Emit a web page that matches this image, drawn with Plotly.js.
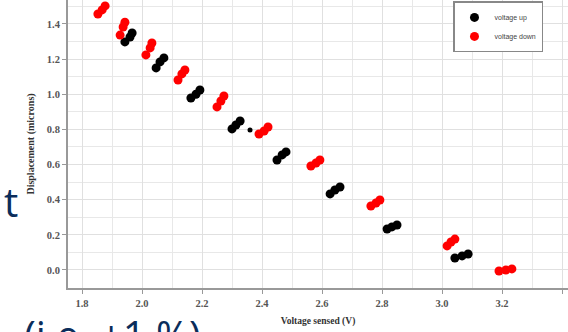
<!DOCTYPE html>
<html>
<head>
<meta charset="utf-8">
<script src="https://cdn.plot.ly/plotly-3.0.1.min.js"></script>
<style>html,body{margin:0;padding:0;background:#fff;}#chart{width:568px;height:332px;}</style>
</head>
<body>
<div id="chart"></div>
<script>
// voltage up (black)
const upX = [1.943,1.96,1.967, 2.047,2.06,2.073, 2.163,2.18,2.193, 2.30,2.313,2.327, 2.45,2.467,2.48, 2.627,2.643,2.66, 2.817,2.833,2.85, 3.043,3.067,3.087];
const upY = [1.298,1.326,1.349, 1.15,1.184,1.207, 0.979,1.0,1.024, 0.803,0.825,0.848, 0.626,0.655,0.672, 0.433,0.455,0.472, 0.233,0.245,0.256, 0.068,0.08,0.091];
// stray small point
const strayX = [2.36];
const strayY = [0.797];
// voltage down (red)
const downX = [1.853,1.867,1.877, 1.927,1.937,1.943, 2.013,2.027,2.033, 2.12,2.133,2.143, 2.25,2.263,2.273, 2.39,2.407,2.42, 2.563,2.58,2.593, 2.763,2.78,2.793, 3.017,3.03,3.043, 3.19,3.213,3.233];
const downY = [1.457,1.48,1.503, 1.337,1.383,1.41, 1.224,1.264,1.292, 1.081,1.116,1.138, 0.928,0.962,0.99, 0.774,0.791,0.814, 0.592,0.609,0.626, 0.364,0.381,0.398, 0.137,0.159,0.176, -0.006,0,0.006];
const seriesNames = ['voltage up', 'voltage down'];
const xTitle = 'Voltage sensed (V)';
const yTitle = 'Displacement (microns)';
const overlayTexts = ['t', '(i.e. ±1 %)'];

const tickFont = {family: 'Liberation Serif', size: 10.5, color: '#555', weight: 'bold'};
const axisCommon = {
  showline: true, linecolor: '#999', linewidth: 2,
  ticks: 'outside', ticklen: 4, tickcolor: '#999',
  showgrid: true, gridcolor: '#e0e0e0', gridwidth: 1,
  zeroline: false, tickfont: tickFont, tickformat: '.1f', dtick: 0.2,
  minor: {dtick: 0.1, showgrid: true, gridcolor: '#e8e8e8', gridwidth: 1}
};

const traces = [
  {x: upX, y: upY, name: seriesNames[0], type: 'scatter', mode: 'markers',
   marker: {color: '#000', size: 9}},
  {x: downX, y: downY, name: seriesNames[1], type: 'scatter', mode: 'markers',
   marker: {color: '#ff0000', size: 9}},
  {x: strayX, y: strayY, type: 'scatter', mode: 'markers', showlegend: false,
   marker: {color: '#000', size: 5}}
];

const layout = {
  width: 568, height: 332,
  margin: {l: 68, r: 0, t: 0, b: 44},
  paper_bgcolor: '#fff', plot_bgcolor: '#fff',
  xaxis: Object.assign({}, axisCommon, {
    range: [1.7533, 3.42],
    title: {text: xTitle, font: {family: 'Liberation Serif', size: 9.5, color: '#333', weight: 'bold'}, standoff: 10}
  }),
  yaxis: Object.assign({}, axisCommon, {
    range: [-0.1025, 1.5365],
    title: {text: yTitle, font: {family: 'Liberation Serif', size: 10, color: '#333', weight: 'bold'}, standoff: 10}
  }),
  showlegend: true,
  legend: {
    x: 0.77, y: 0.995, xanchor: 'left', yanchor: 'top',
    bgcolor: '#fff', bordercolor: '#888', borderwidth: 1.5,
    font: {family: 'Liberation Sans', size: 7, color: '#444'},
    itemwidth: 30, tracegroupgap: 0
  },
  annotations: [
    {text: overlayTexts[0], xref: 'paper', yref: 'paper', x: -0.132, y: 0.299,
     xanchor: 'left', yanchor: 'middle', showarrow: false,
     font: {family: 'Open Sans', size: 40, color: '#0b2d5b'}},
    {text: overlayTexts[1], xref: 'paper', yref: 'paper', x: -0.092, y: -0.163,
     xanchor: 'left', yanchor: 'middle', showarrow: false,
     font: {family: 'Open Sans', size: 40, color: '#0b2d5b'}}
  ]
};

Plotly.newPlot('chart', traces, layout, {displayModeBar: false, staticPlot: true});
</script>
</body>
</html>
